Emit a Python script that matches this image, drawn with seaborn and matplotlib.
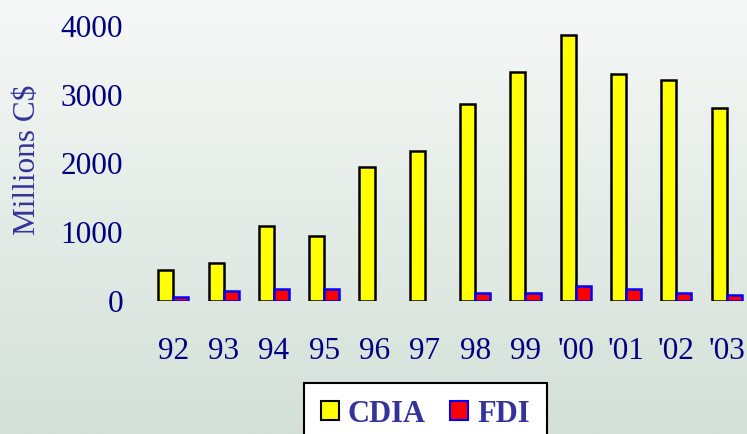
import numpy as np
import pandas as pd
import matplotlib
matplotlib.use("Agg")
import matplotlib.pyplot as plt
import seaborn as sns
from matplotlib.colors import LinearSegmentedColormap
from matplotlib.patches import Patch

years = ["92", "93", "94", "95", "96", "97", "98", "99", "'00", "'01", "'02", "'03"]
cdia = [450, 550, 1090, 945, 1950, 2180, 2865, 3325, 3870, 3300, 3210, 2805]
fdi = [55, 140, 170, 170, 0, 0, 110, 110, 225, 170, 110, 85]
series_names = ["CDIA", "FDI"]
yticks = [0, 1000, 2000, 3000, 4000]

df = pd.DataFrame({
    "year": years * 2,
    "value": cdia + fdi,
    "series": [series_names[0]] * len(years) + [series_names[1]] * len(years),
})

sns.set_theme(style="white")
plt.rcParams["font.family"] = ["Liberation Serif", "DejaVu Serif"]

W, H = 747, 434
fig = plt.figure(figsize=(W / 100, H / 100), dpi=100)

# gradient background
bg = fig.add_axes([0, 0, 1, 1], zorder=-10)
grad = np.linspace(0, 1, 256).reshape(-1, 1)
cmap = LinearSegmentedColormap.from_list("bg", ["#f6f8f7", "#d3e0d7"])
bg.imshow(grad, aspect="auto", cmap=cmap, extent=[0, 1, 0, 1], origin="upper")
bg.axis("off")

ax = fig.add_axes([148.2 / W, 133 / H, 603.6 / W, 281.9 / H])
ax.patch.set_alpha(0)
colors = {"CDIA": "#ffff00", "FDI": "#ff0000"}
sns.barplot(data=df, x="year", y="value", hue="series", palette=colors,
            width=0.6, gap=0, saturation=1, ax=ax, legend=False)

for bar in ax.containers[0]:
    bar.set_edgecolor("black")
    bar.set_linewidth(1.8)
for bar in ax.containers[1]:
    bar.set_edgecolor("#0000ff")
    bar.set_linewidth(1.8)
    if bar.get_height() == 0:
        bar.set_visible(False)

ax.set_xlim(-0.5, 11.5)
ax.set_ylim(0, 4100)
ax.set_yticks(yticks)
ax.set_yticklabels([str(t) for t in yticks])
for s in ax.spines.values():
    s.set_visible(False)
ax.tick_params(axis="both", length=0, labelsize=22.5, colors="#000080")
ax.tick_params(axis="y", pad=18)
ax.tick_params(axis="x", pad=26)
ax.set_xlabel("")
ax.set_ylabel("Millions C$", fontsize=22.5, color="#333399")
ax.yaxis.set_label_coords(-0.176, 0.5)

handles = [Patch(facecolor=colors["CDIA"], edgecolor="black", linewidth=1.5),
           Patch(facecolor=colors["FDI"], edgecolor="#0000ff", linewidth=1.5)]
leg = fig.legend(handles, series_names, loc="upper left",
                 bbox_to_anchor=(304.3 / W, 1 - 382.7 / H), ncol=2,
                 frameon=True, fancybox=False, edgecolor="black", framealpha=1,
                 facecolor="white", prop={"weight": "bold", "size": 22},
                 labelcolor="#333399", handlelength=0.58, handleheight=0.58,
                 handletextpad=0.3, columnspacing=0.8, borderpad=0.55,
                 borderaxespad=0)
leg.get_frame().set_linewidth(1.5)

fig.savefig("out.png", dpi=100)
